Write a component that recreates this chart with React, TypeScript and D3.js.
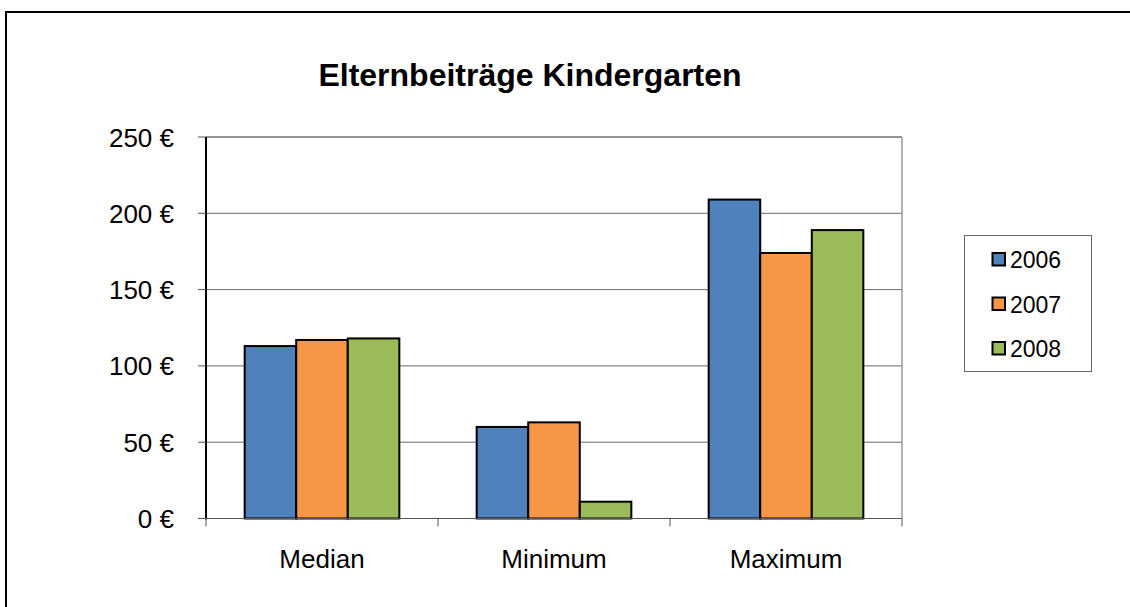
import React from "react";
import * as d3 from "d3";

const categories = ["Median", "Minimum", "Maximum"];
const seriesNames = ["2006", "2007", "2008"];
const values2006 = [113, 60, 209];
const values2007 = [117, 63, 174];
const values2008 = [118, 11, 189];
const yTicks = [0, 50, 100, 150, 200, 250];
const colors = ["#4F81BD", "#F79646", "#9BBB59"];

const seriesValues = [values2006, values2007, values2008];

export default function App() {
  const W = 1130, H = 607;
  const left = 206, right = 902, top = 137, bottom = 518.5;
  const x = d3.scaleBand<string>().domain(categories).range([left, right]).padding(0);
  const xInner = d3
    .scaleBand<string>()
    .domain(seriesNames)
    .range([0, x.bandwidth()])
    .paddingInner(0)
    .paddingOuter(0.75);
  const y = d3.scaleLinear().domain([0, 250]).range([bottom, top]);
  const font = "Arial, 'Liberation Sans', sans-serif";
  const boundaries = [...categories.map((c) => x(c) as number), right];

  return (
    <svg
      width={W}
      height={H}
      style={{ position: "absolute", left: 0, top: 0, background: "#fff" }}
      fontFamily={font}
    >
      <rect x={0} y={0} width={W} height={H} fill="#fff" />
      <rect x={6} y={12} width={1300} height={800} fill="none" stroke="#000" strokeWidth={2} />
      <text x={530} y={86} textAnchor="middle" fontSize={32} fontWeight="bold" fill="#000">
        Elternbeiträge Kindergarten
      </text>

      {/* gridlines */}
      {yTicks.map((t) => (
        <line key={t} x1={left} x2={right} y1={y(t)} y2={y(t)} stroke="#6a6a6a" strokeWidth={1} />
      ))}
      {/* plot border top/right */}
      <line x1={left} x2={right} y1={top} y2={top} stroke="#888" strokeWidth={1.5} />
      <line x1={right} x2={right} y1={top} y2={bottom} stroke="#999" strokeWidth={1.5} />

      {/* bars */}
      {seriesNames.map((s, si) =>
        categories.map((c, ci) => {
          const v = seriesValues[si][ci];
          const bx = (x(c) as number) + (xInner(s) as number);
          return (
            <rect
              key={s + c}
              x={bx}
              y={y(v)}
              width={xInner.bandwidth()}
              height={y(0) - y(v)}
              fill={colors[si]}
              stroke="#000"
              strokeWidth={2}
            />
          );
        })
      )}

      {/* axes */}
      <line x1={left} x2={left} y1={top} y2={bottom + 1} stroke="#000" strokeWidth={2} />
      <line x1={left} x2={right} y1={bottom} y2={bottom} stroke="#555" strokeWidth={1} />
      {yTicks.map((t) => (
        <g key={"yt" + t}>
          <line x1={198} x2={left} y1={y(t)} y2={y(t)} stroke="#555" strokeWidth={1} />
          <text x={174} y={y(t) + 9.5} textAnchor="end" fontSize={26} fill="#000">
            {t} €
          </text>
        </g>
      ))}
      {boundaries.map((b, i) => (
        <line key={"xt" + i} x1={b} x2={b} y1={bottom} y2={bottom + 8} stroke="#555" strokeWidth={1} />
      ))}
      {categories.map((c) => (
        <text
          key={"xl" + c}
          x={(x(c) as number) + x.bandwidth() / 2}
          y={568}
          textAnchor="middle"
          fontSize={26}
          fill="#000"
        >
          {c}
        </text>
      ))}

      {/* legend */}
      <rect x={964.5} y={235.5} width={127} height={136} fill="#fff" stroke="#666" strokeWidth={1} />
      {seriesNames.map((s, i) => {
        const cy = 259.5 + i * 44.5;
        return (
          <g key={"lg" + s}>
            <rect x={992.5} y={cy - 6.5} width={12.5} height={12.5} fill={colors[i]} stroke="#000" strokeWidth={2} />
            <text x={1010} y={cy + 8.5} fontSize={23} fill="#000">
              {s}
            </text>
          </g>
        );
      })}
    </svg>
  );
}
